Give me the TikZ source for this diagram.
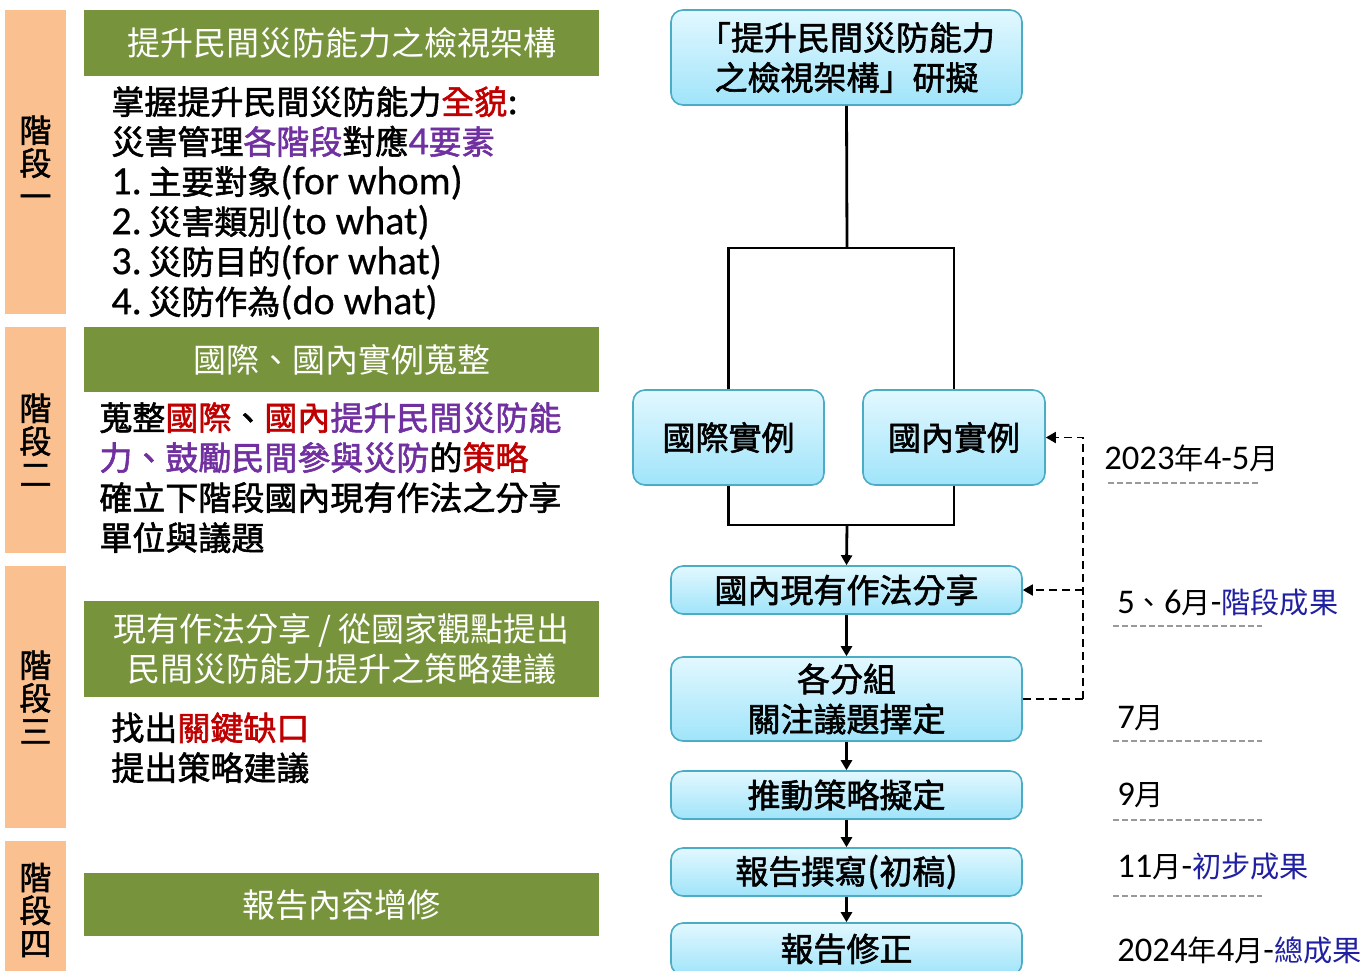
\documentclass[tikz,border=0pt]{standalone}
\usepackage{fontspec}
\setmainfont{Noto Sans CJK TC}
\newfontfamily\cjkm[FakeBold=1.7]{Noto Sans CJK TC}
\newfontfamily\lat{Carlito}
\newfontfamily\latm[FakeBold=0.5]{Carlito}
\usetikzlibrary{arrows.meta}
\definecolor{hdr}{RGB}{119,147,60}
\definecolor{stg}{RGB}{250,192,144}
\definecolor{rd}{RGB}{192,0,0}
\definecolor{pp}{RGB}{112,48,160}
\definecolor{nv}{RGB}{32,32,160}
\definecolor{bxtop}{RGB}{226,248,255}
\definecolor{bxbot}{RGB}{160,228,250}
\definecolor{bxline}{RGB}{75,172,198}
\newcommand{\latn}[1]{{\latm\fontsize{20}{20}\selectfont #1}}
\newcommand{\latd}[1]{{\lat\fontsize{17.3}{17.3}\selectfont #1}}
\begin{document}
\begin{tikzpicture}[x=0.5pt,y=-0.5pt,
  stagebar/.style={fill=stg, draw=none, minimum width=30.5pt, inner sep=0, align=center, font=\cjkm\fontsize{16}{16.5}\selectfont},
  header/.style={fill=hdr, text=white, minimum width=257.5pt, inner sep=0, align=center, font=\fontsize{16.5}{20}\selectfont},
  body/.style={anchor=north west, inner sep=0, align=left, font=\cjkm\fontsize{16.5}{20}\selectfont},
  flow/.style={draw=bxline, line width=0.8pt, rounded corners=6pt, top color=bxtop, bottom color=bxbot, minimum width=175.5pt, inner sep=0, align=center, font=\cjkm\fontsize{16.5}{20}\selectfont},
  conn/.style={line width=1.4pt, black},
  arr/.style={conn, -{Triangle[length=5pt,width=5.5pt]}},
  fbk/.style={line width=0.9pt, dash pattern=on 4pt off 2.5pt, -{Triangle[length=5pt,width=5.5pt]}},
  datel/.style={anchor=west, inner sep=0, font=\fontsize{14.6}{18}\selectfont},
  guide/.style={black!40, line width=0.6pt, dash pattern=on 3pt off 1.5pt}
]
\useasboundingbox (0,0) rectangle (1366,970);
\clip (0,0) rectangle (1366,970);

% stage bars
\node[stagebar, minimum height=152pt] (s1) at (35.5,162) {階\\段\\一};
\node[stagebar, minimum height=113pt] (s2) at (35.5,440) {階\\段\\二};
\node[stagebar, minimum height=131pt] (s3) at (35.5,697) {階\\段\\三};
\node[stagebar, minimum height=69pt] (s4) at (35.5,910) {階\\段\\四};

% green headers
\node[header, minimum height=33pt] (h1) at (341.5,43) {提升民間災防能力之檢視架構};
\node[header, minimum height=32.5pt] (h2) at (341.5,359.5) {國際、國內實例蒐整};
\node[header, minimum height=48pt] (h3) at (341.5,649) {現有作法分享 / 從國家觀點提出\\民間災防能力提升之策略建議};
\node[header, minimum height=31.5pt] (h4) at (341.5,904.5) {報告內容增修};

% body texts
\node[body] (b1) at (111,86) {掌握提升民間災防能力{\color{rd}全貌}\latn{:}\\
災害管理{\color{pp}各階段}對應{\color{pp}\latn{4}要素}\\
\latn{1.\,}主要對象\latn{(for whom)}\\
\latn{2.\,}災害類別\latn{(to what)}\\
\latn{3.\,}災防目的\latn{(for what)}\\
\latn{4.\,}災防作為\latn{(do what)}};
\node[body] (b2) at (99,402) {蒐整{\color{rd}國際}、{\color{rd}國內}{\color{pp}提升民間災防能}\\
{\color{pp}力、鼓勵民間參與災防}的{\color{rd}策略}\\
確立下階段國內現有作法之分享\\
單位與議題};
\node[body] (b3) at (111,712) {找出{\color{rd}關鍵缺口}\\
提出策略建議};

% flow boxes
\node[flow, minimum height=47.5pt] (top) at (846.5,57.5) {「提升民間災防能力\\之檢視架構」研擬};
\node[flow, minimum width=95.5pt, minimum height=47.5pt] (intl) at (728.5,437.5) {國際實例};
\node[flow, minimum width=91pt, minimum height=47.5pt] (dom) at (954,437.5) {國內實例};
\node[flow, minimum height=24pt] (share) at (846.5,590) {國內現有作法分享};
\node[flow, minimum height=42pt] (group) at (846.5,699) {各分組\\關注議題擇定};
\node[flow, minimum height=24pt] (promo) at (846.5,795) {推動策略擬定};
\node[flow, minimum height=24pt] (draft) at (846.5,872) {報告撰寫\latn{(}初稿\latn{)}};
\node[flow, minimum height=26pt] (rev) at (846.5,949) {報告修正};

% connectors
\coordinate (split) at (847,248);
\coordinate (merge) at (847,525);
\draw[conn] (top.south) -- (split);
\draw[conn] (intl.north) |- (split) -| (dom.north);
\draw[conn] (intl.south) |- (merge) -| (dom.south);
\draw[arr] (merge) -- (share.north);
\draw[arr] (share.south) -- (group.north);
\draw[arr] (group.south) -- (promo.north);
\draw[arr] (promo.south) -- (draft.north);
\draw[arr] (draft.south) -- (rev.north);

% feedback dashed
\coordinate (fbR) at (1083,699);
\draw[line width=0.9pt, dash pattern=on 4pt off 2.5pt] (group.east) -- (fbR);
\draw[fbk] (fbR) |- (dom.east);
\draw[fbk] (fbR |- share.east) -- (share.east);

% date labels
\node[datel] (d1) at (1104,458) {\latd{2023}年\latd{4-5}月};
\node[datel] (d2) at (1117,602) {\latd{5}、\latd{6}月\latd{-}{\color{nv}階段成果}};
\node[datel] (d3) at (1117,718) {\latd{7}月};
\node[datel] (d4) at (1117,795) {\latd{9}月};
\node[datel] (d5) at (1117,866) {\latd{11}月\latd{-}{\color{nv}初步成果}};
\node[datel] (d6) at (1117,950) {\latd{2024}年\latd{4}月\latd{-}{\color{nv}總成果}};

\draw[guide] (1108,483) -- (1258,483);
\draw[guide] (1113,626) -- (1262,626);
\draw[guide] (1113,741) -- (1262,741);
\draw[guide] (1113,820) -- (1262,820);
\draw[guide] (1113,896) -- (1262,896);
\end{tikzpicture}
\end{document}
